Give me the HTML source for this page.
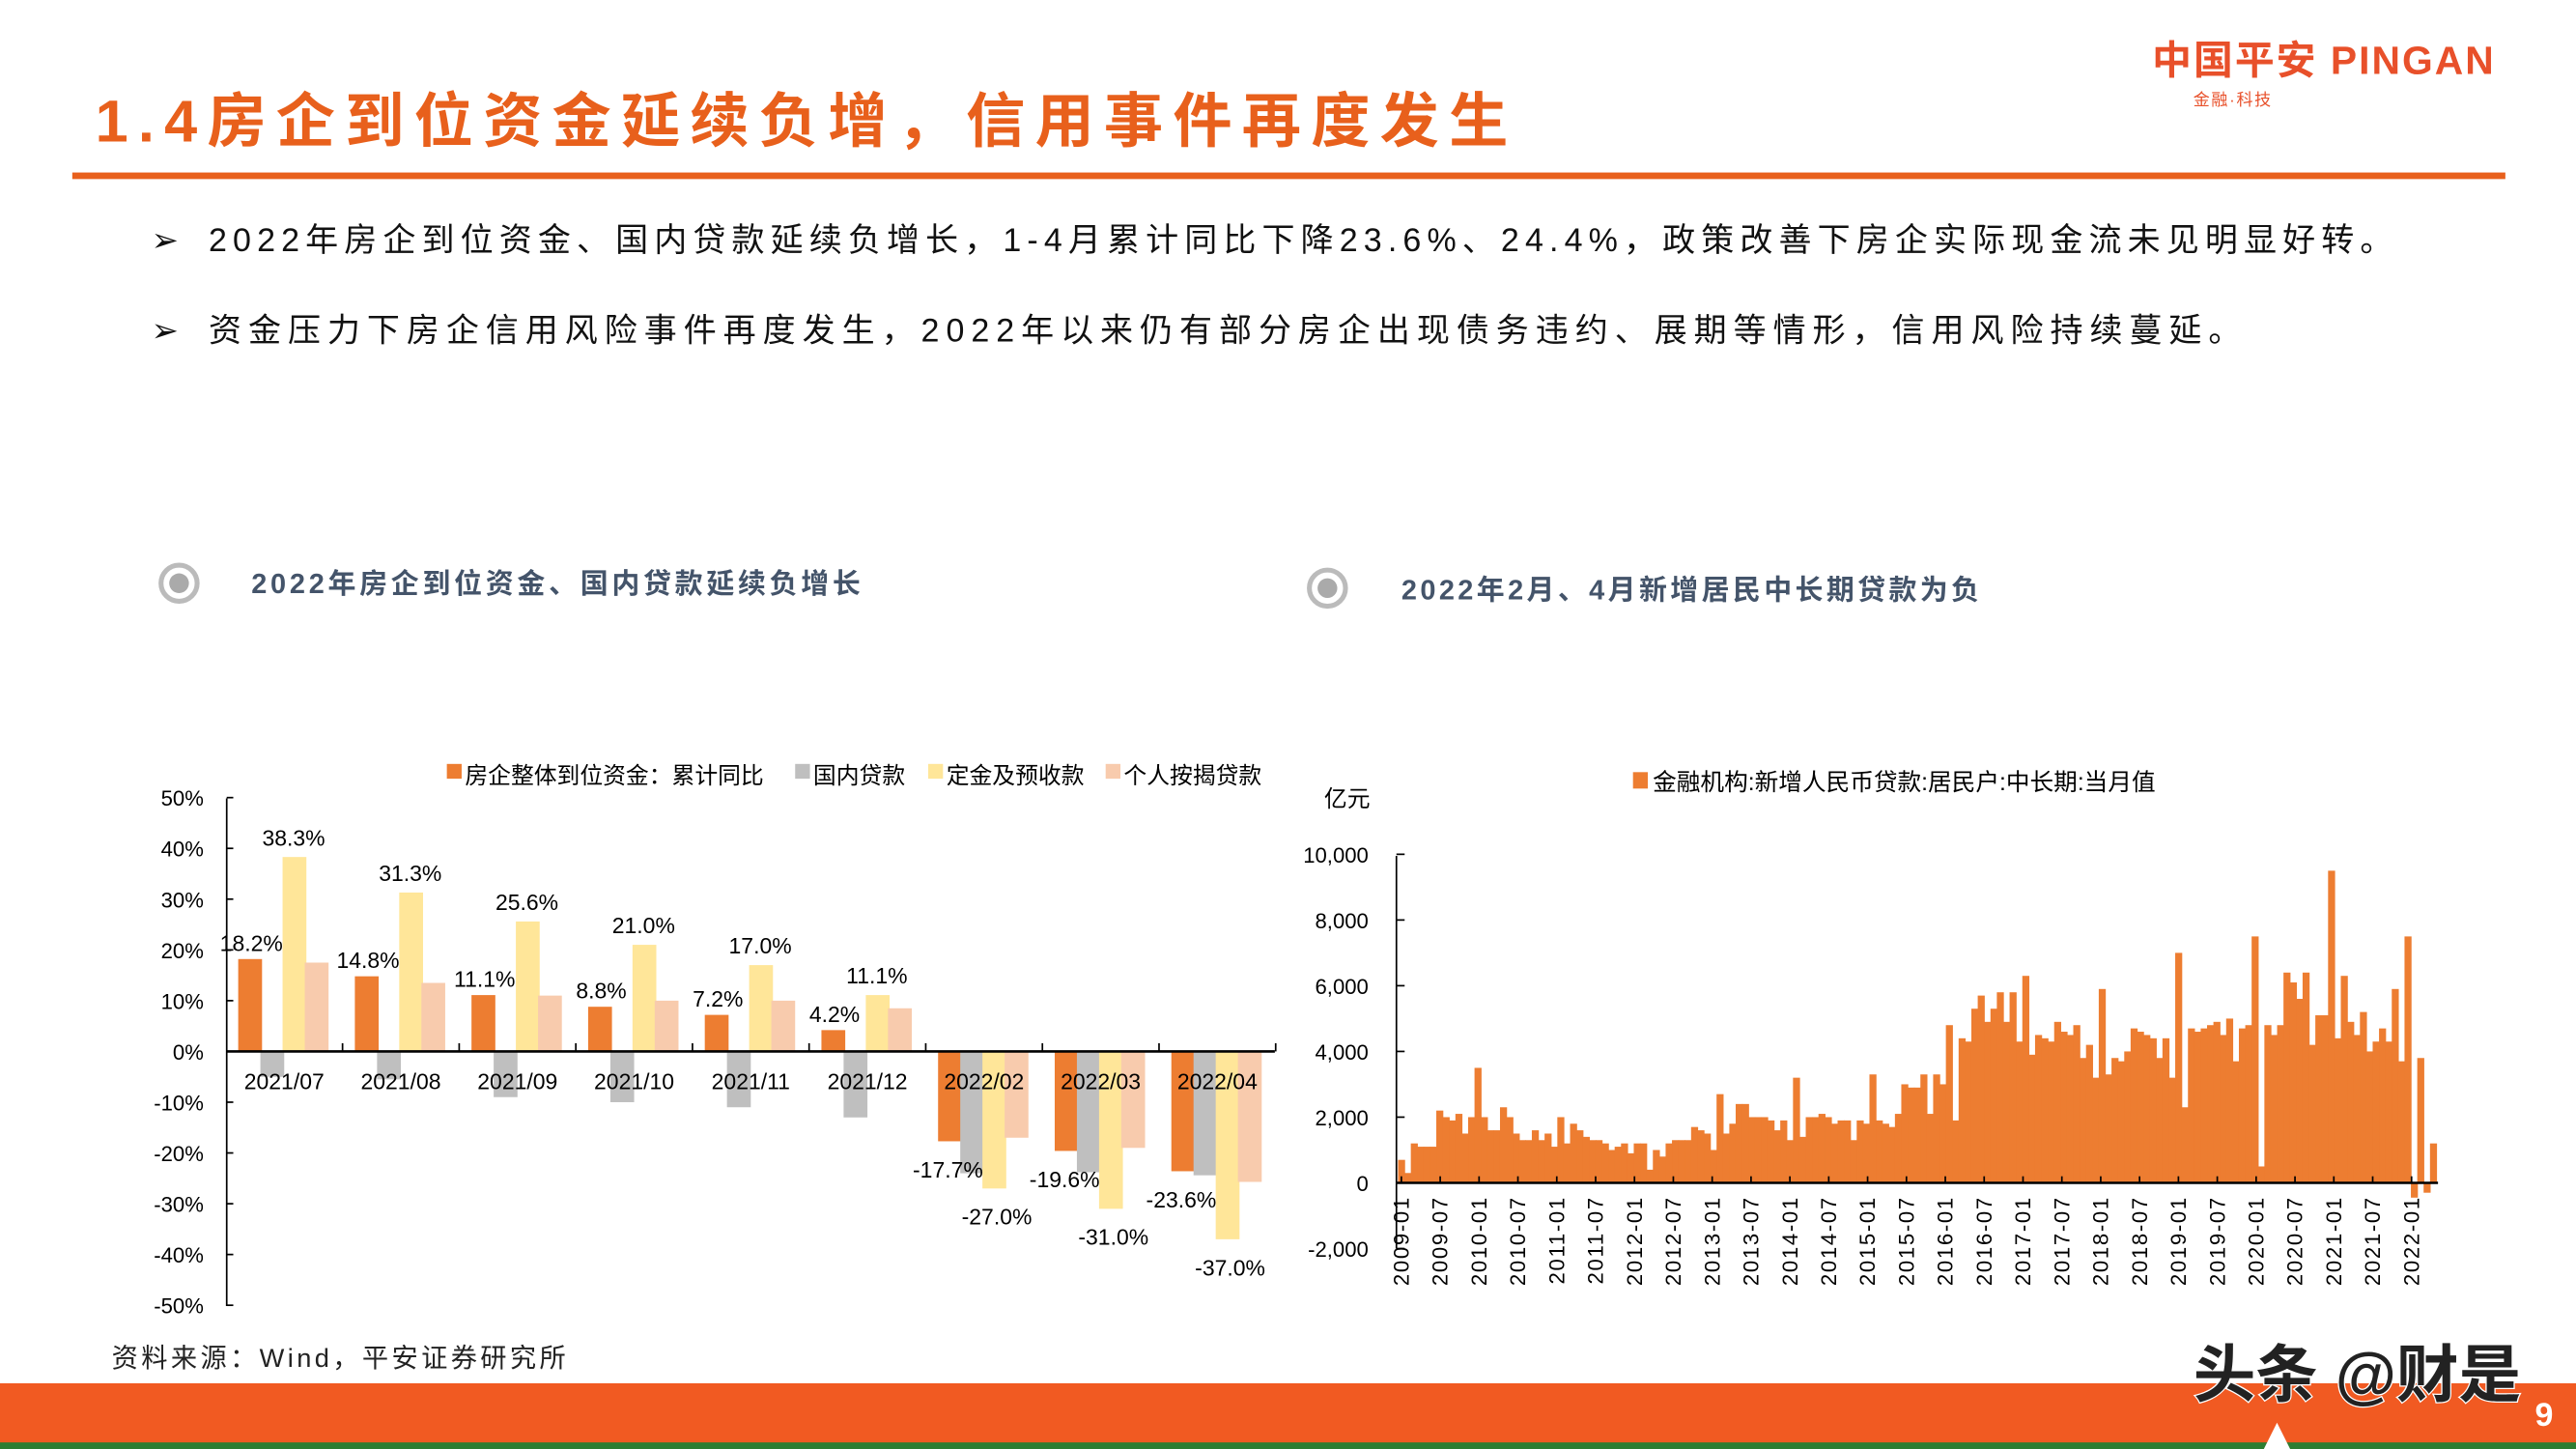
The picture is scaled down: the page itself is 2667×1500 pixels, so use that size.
<!DOCTYPE html>
<html><head><meta charset="utf-8"><style>
html,body{margin:0;padding:0;background:#fff;}
svg{display:block;}
text{font-family:"Liberation Sans","Noto Sans CJK SC",sans-serif;}
</style></head><body>
<svg id="s" width="2667" height="1500" viewBox="0 0 1568 882" preserveAspectRatio="none" xmlns="http://www.w3.org/2000/svg">
<rect width="1568" height="882" fill="#fff"/>
<text x="58" y="86" font-size="36" font-weight="bold" fill="#E8601C" letter-spacing="6">1.4房企到位资金延续负增，信用事件再度发生</text>
<rect x="44" y="105" width="1481" height="4" fill="#E8601C"/>
<text x="1310" y="45" font-size="24" font-weight="bold" fill="#E8502A" letter-spacing="1.2">中国平安 PINGAN</text>
<text x="1335" y="64" font-size="10" fill="#E8502A" letter-spacing="1">金融·科技</text>
<text x="92" y="153" font-size="20" fill="#111">➢</text>
<text x="127" y="153" font-size="20" fill="#111" letter-spacing="3.6">2022年房企到位资金、国内贷款延续负增长，1-4月累计同比下降23.6%、24.4%，政策改善下房企实际现金流未见明显好转。</text>
<text x="92" y="208" font-size="20" fill="#111">➢</text>
<text x="127" y="208" font-size="20" fill="#111" letter-spacing="4.1">资金压力下房企信用风险事件再度发生，2022年以来仍有部分房企出现债务违约、展期等情形，信用风险持续蔓延。</text>
<circle cx="109" cy="355" r="11" fill="none" stroke="#bbb" stroke-width="3"/><circle cx="109" cy="355" r="6" fill="#aaa"/>
<text x="153" y="361" font-size="17" font-weight="bold" fill="#44546A" letter-spacing="2.2">2022年房企到位资金、国内贷款延续负增长</text>
<circle cx="808" cy="358" r="11" fill="none" stroke="#bbb" stroke-width="3"/><circle cx="808" cy="358" r="6" fill="#aaa"/>
<text x="853" y="365" font-size="17" font-weight="bold" fill="#44546A" letter-spacing="2">2022年2月、4月新增居民中长期贷款为负</text>
<g id="left"></g>
<g id="right"></g>
<text x="68" y="832" font-size="16" fill="#222" letter-spacing="2">资料来源：Wind，平安证券研究所</text>
<rect x="0" y="842" width="1568" height="37" fill="#F15A22"/>
<rect x="0" y="878" width="1568" height="4" fill="#2E7D32"/>
<path d="M1378 882 L1386 866 L1394 882 Z" fill="#fff"/>
<text x="1335" y="850" font-size="38" font-weight="bold" fill="#222" stroke="#fff" stroke-width="1.5" paint-order="stroke">头条 @财是</text>
<text x="1543" y="868" font-size="20" font-weight="bold" fill="#fff">9</text>
</svg>
<script>
var NS="http://www.w3.org/2000/svg";
function el(p,t,a,txt){var e=document.createElementNS(NS,t);for(var k in a)e.setAttribute(k,a[k]);if(txt!=null)e.textContent=txt;p.appendChild(e);return e;}
var L=document.getElementById("left");
var y0=640,pp=3.09;
function Y(v){return y0-v*pp;}
el(L,"line",{x1:138,y1:486,x2:138,y2:795,stroke:"#000","stroke-width":1});
for(var v=50;v>=-50;v-=10){el(L,"text",{x:124,y:Y(v)+5,"font-size":13,"text-anchor":"end",fill:"#000"},v+"%");el(L,"line",{x1:138,y1:Y(v),x2:142,y2:Y(v),stroke:"#000"});}
var cats=["2021/07","2021/08","2021/09","2021/10","2021/11","2021/12","2022/02","2022/03","2022/04"];
var A=[18.2,14.8,11.1,8.8,7.2,4.2,-17.7,-19.6,-23.6];
var B=[-5,-5.5,-9,-10,-11,-13,-24,-23.8,-24.4];
var C=[38.3,31.3,25.6,21.0,17.0,11.1,-27.0,-31.0,-37.0];
var D=[17.5,13.5,11,10,10,8.5,-17,-19,-25.7];
var cols=["#ED7D31","#BFBFBF","#FFE699","#F8CBAD"];
var bw=13.5;
for(var i=0;i<9;i++){
 var c=173+i*71, s=c-28;
 [A,B,C,D].forEach(function(arr,j){var v=arr[i];var x=s+j*bw;el(L,"rect",{x:x,y:Math.min(Y(v),y0),width:bw+1,height:Math.abs(v*pp),fill:cols[j]});});
 var a=A[i],cc=C[i];
 if(a>0){el(L,"text",{x:s+8,y:Y(a)-5,"font-size":13.5,"text-anchor":"middle"},a.toFixed(1)+"%");el(L,"text",{x:s+2.5*bw,y:Y(cc)-7,"font-size":13.5,"text-anchor":"middle"},cc.toFixed(1)+"%");}
 else{el(L,"text",{x:s+6,y:Y(a)+22,"font-size":13.5,"text-anchor":"middle"},a.toFixed(1)+"%");el(L,"text",{x:s+2.5*bw+2,y:Y(cc)+22,"font-size":13.5,"text-anchor":"middle"},cc.toFixed(1)+"%");}
 el(L,"text",{x:c,y:663,"font-size":13.5,"text-anchor":"middle"},cats[i]);
 el(L,"line",{x1:c+35.5,y1:y0,x2:c+35.5,y2:y0-5,stroke:"#000"});
}
el(L,"line",{x1:138,y1:y0,x2:776,y2:y0,stroke:"#000","stroke-width":1.5});
var lg=[["房企整体到位资金：累计同比",272],["国内贷款",484],["定金及预收款",565],["个人按揭贷款",673]];
lg.forEach(function(d,j){el(L,"rect",{x:d[1],y:465,width:9,height:9,fill:cols[j]});el(L,"text",{x:d[1]+11,y:477,"font-size":14},d[0]);});
var R=document.getElementById("right");
var z=720,sc=0.02;
function YY(v){return z-v*sc;}
el(R,"line",{x1:850,y1:521,x2:850,y2:760,stroke:"#000"});
for(var v=10000;v>=-2000;v-=2000){el(R,"text",{x:833,y:YY(v)+5,"font-size":13,"text-anchor":"end"},v.toLocaleString("en-US"));el(R,"line",{x1:850,y1:YY(v),x2:855,y2:YY(v),stroke:"#000"});}
el(R,"text",{x:806,y:491,"font-size":14},"亿元");
el(R,"rect",{x:994,y:470,width:9,height:10,fill:"#ED7D31"});
el(R,"text",{x:1006,y:481,"font-size":14.5},"金融机构:新增人民币贷款:居民户:中长期:当月值");
var d=[0.7,0.3,1.2,1.1,1.1,1.1,2.2,2.0,1.9,2.1,1.5,2.0,
3.5,2.0,1.6,1.6,2.3,2.0,1.5,1.3,1.3,1.6,1.3,1.5,
1.1,2.0,1.2,1.8,1.6,1.4,1.3,1.3,1.2,1.0,1.1,1.2,
0.9,1.2,1.2,0.4,1.0,0.8,1.2,1.3,1.3,1.3,1.7,1.6,
1.5,1.0,2.7,1.5,1.8,2.4,2.4,2.0,2.0,2.0,1.9,1.6,
1.9,1.3,3.2,1.4,2.0,2.0,2.1,2.0,1.8,1.9,1.9,1.3,
1.9,1.8,3.3,1.9,1.8,1.7,2.1,3.0,2.9,2.9,3.3,2.1,
3.3,3.0,4.8,1.9,4.4,4.3,5.3,5.7,4.9,5.3,5.8,4.9,
5.8,4.3,6.3,3.9,4.5,4.4,4.3,4.9,4.6,4.5,4.8,3.8,
4.2,3.2,5.9,3.3,3.8,3.7,4.0,4.7,4.6,4.5,4.4,3.8,
4.4,3.2,7.0,2.3,4.7,4.6,4.7,4.8,4.9,4.5,5.0,3.7,
4.7,4.8,7.5,0.5,4.8,4.5,4.8,6.4,6.1,5.6,6.4,4.2,
5.1,5.1,9.5,4.4,6.3,4.9,4.5,5.2,4.0,4.3,4.7,4.3,
5.9,3.7,7.5,-0.45,3.8,-0.3,1.2];
var n=d.length,x0=851,w=(1483-851)/n;
d.forEach(function(v,i){v*=1000;el(R,"rect",{x:x0+i*w,y:Math.min(YY(v),z),width:w+0.4,height:Math.abs(v*sc),fill:"#ED7D31"});});
el(R,"line",{x1:850,y1:z,x2:1484,y2:z,stroke:"#000","stroke-width":1.5});
for(var k=0;k<27;k++){var yr=2009+Math.floor(k/2),m=k%2?"07":"01";var x=853+k*23.65;
 el(R,"line",{x1:x,y1:z,x2:x,y2:z-4,stroke:"#000"});
 el(R,"text",{x:0,y:0,"font-size":13,"text-anchor":"end","letter-spacing":"1",transform:"translate("+(x+4.5)+",728) rotate(-90)"},yr+"-"+m);}
</script>
</body></html>
